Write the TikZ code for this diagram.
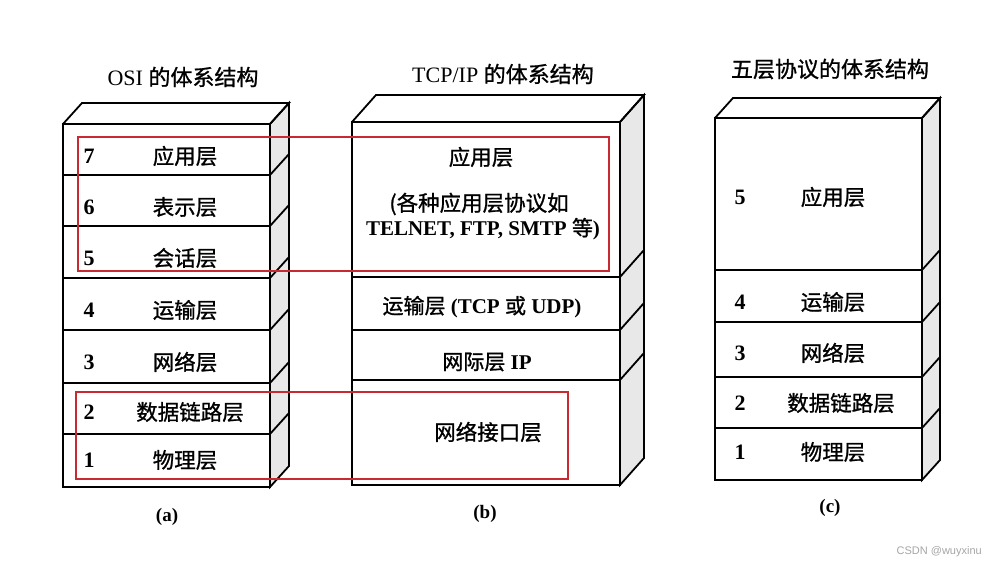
\documentclass[tikz,border=0pt]{standalone}
\usepackage{fontspec}
\setmainfont{Liberation Serif}
\newfontfamily\cjk[FakeBold=1]{Noto Sans CJK SC}
\newfontfamily\wmfont{Liberation Sans}
\newcommand\zh[1]{{\mdseries\cjk #1}}
\definecolor{redbox}{RGB}{200,42,50}
\definecolor{sidegray}{RGB}{232,232,232}
\begin{document}
\begin{tikzpicture}[x=1pt,y=-1pt,
  edge/.style={line width=1.8pt, line join=miter, black},
  redframe/.style={draw=redbox, line width=2pt},
  lbl/.style={font=\fontsize{21.5}{25}\selectfont\cjk, inner sep=0pt},
  num/.style={font=\fontsize{22}{25}\selectfont\bfseries, inner sep=0pt},
  ttl/.style={font=\fontsize{22}{25}\selectfont, inner sep=0pt},
  captxt/.style={font=\fontsize{19}{22}\selectfont\bfseries, inner sep=0pt}]
\useasboundingbox (0,0) rectangle (996,567);
\fill[white] (0,0) rectangle (996,567);

% ---------- stack (a) ----------
\filldraw[edge, fill=sidegray] (270,124) -- (289,103) -- (289,466) -- (270,487) -- cycle;
\draw[edge] (63,124) -- (82,103) -- (289,103) -- (270,124);
\draw[edge] (63,124) rectangle (270,487);
\foreach \yy in {175,226,278,330,383,434}
  \draw[edge] (63,\yy) -- (270,\yy) -- ++(19,-21);

% ---------- stack (b) ----------
\filldraw[edge, fill=sidegray] (620,122) -- (644,95) -- (644,458) -- (620,485) -- cycle;
\draw[edge] (352,122) -- (376,95) -- (644,95) -- (620,122);
\draw[edge] (352,122) rectangle (620,485);
\foreach \yy in {277,330,380}
  \draw[edge] (352,\yy) -- (620,\yy) -- ++(24,-27);

% ---------- stack (c) ----------
\filldraw[edge, fill=sidegray] (922,118) -- (940,98) -- (940,460) -- (922,480) -- cycle;
\draw[edge] (715,118) -- (733,98) -- (940,98) -- (922,118);
\draw[edge] (715,118) rectangle (922,480);
\foreach \yy in {270,322,377,428}
  \draw[edge] (715,\yy) -- (922,\yy) -- ++(18,-20);

% ---------- titles ----------
\node[ttl] (ta) at (183,77) {OSI \zh{的体系结构}};
\node[ttl] (tb) at (503,74) {TCP/IP \zh{的体系结构}};
\node[ttl,font=\fontsize{22}{25}\selectfont\cjk] (tc) at (830,69) {五层协议的体系结构};

% ---------- (a) labels ----------
\node[num] (a7n) at (89,156) {7};
\node[lbl] (a7) at (185,156) {应用层};
\node[num] (a6n) at (89,207) {6};
\node[lbl] (a6) at (185,207) {表示层};
\node[num] (a5n) at (89,258) {5};
\node[lbl] (a5) at (185,258) {会话层};
\node[num] (a4n) at (89,310) {4};
\node[lbl] (a4) at (185,310) {运输层};
\node[num] (a3n) at (89,362) {3};
\node[lbl] (a3) at (185,362) {网络层};
\node[num] (a2n) at (89,412) {2};
\node[lbl] (a2) at (190,412) {数据链路层};
\node[num] (a1n) at (89,460) {1};
\node[lbl] (a1) at (185,460) {物理层};

% ---------- (b) labels ----------
\node[lbl] (bapp) at (481,157) {应用层};
\node[lbl] (bapp2) at (479,204) {(各种应用层协议如};
\node[num, font=\fontsize{21}{25}\selectfont\bfseries] (bapp3) at (483,229) {TELNET, FTP, SMTP \zh{等})};
\node[num, font=\fontsize{21}{25}\selectfont\bfseries] (btr) at (482,307) {\zh{运输层} (TCP \zh{或} UDP)};
\node[num, font=\fontsize{21}{25}\selectfont\bfseries] (bip) at (487,362) {\zh{网际层} IP};
\node[lbl] (bnet) at (488,432) {网络接口层};

% ---------- (c) labels ----------
\node[num] (c5n) at (740,197) {5};
\node[lbl] (c5) at (833,197) {应用层};
\node[num] (c4n) at (740,302) {4};
\node[lbl] (c4) at (833,302) {运输层};
\node[num] (c3n) at (740,353) {3};
\node[lbl] (c3) at (833,353) {网络层};
\node[num] (c2n) at (740,403) {2};
\node[lbl] (c2) at (841,403) {数据链路层};
\node[num] (c1n) at (740,452) {1};
\node[lbl] (c1) at (833,452) {物理层};

% ---------- captions ----------
\node[captxt] (capa) at (167,517) {(a)};
\node[captxt] (capb) at (485,514) {(b)};
\node[captxt] (capc) at (830,508) {(c)};

% ---------- red frames ----------
\draw[redframe] (78,137) rectangle (609,271);
\draw[redframe] (76,392) rectangle (568,479);

% ---------- watermark ----------
\node[font=\fontsize{11}{13}\selectfont\wmfont, text=gray!70, anchor=east, inner sep=0pt] (wm) at (982,552) {CSDN @wuyxinu};
\end{tikzpicture}
\end{document}
